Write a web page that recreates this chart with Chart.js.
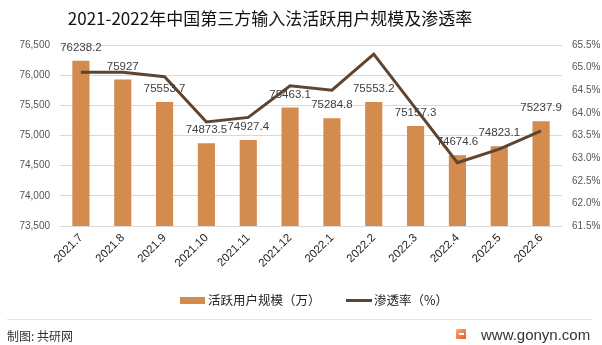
<!DOCTYPE html>
<html>
<head>
<meta charset="utf-8">
<script src="https://cdn.jsdelivr.net/npm/chart.js@4.4.0/dist/chart.umd.min.js"></script>
<style>
  html, body { margin: 0; padding: 0; background: #fff; }
  #wrap { position: relative; width: 602px; height: 345px; overflow: hidden; font-family: "Noto Sans CJK SC", "Noto Sans", sans-serif; }
  #c { position: absolute; left: 0; top: 0; }
  .abs { position: absolute; white-space: nowrap; }
  #title { left: 0; width: 540px; top: 6px; text-align: center; font-size: 17px; color: #111; line-height: 24px; }
  .leg-text { font-size: 12.5px; color: #222; line-height: 16px; top: 292px; }
  #footline { left: 7px; top: 319px; width: 585px; height: 1px; background: #e3e3e3; }
  #src { left: 7px; top: 327px; font-size: 12px; color: #333; line-height: 18px; }
  #site { left: 481px; top: 326px; font-family: "Liberation Sans", "DejaVu Sans", sans-serif; font-size: 15px; color: #333; line-height: 18px; }
</style>
</head>
<body>
<div id="wrap">
  <canvas id="c" width="602" height="345"></canvas>
  <div id="title" class="abs">2021-2022年中国第三方输入法活跃用户规模及渗透率</div>
  <div class="abs" style="left:180px;top:297px;width:25px;height:7px;background:#D38B4E;"></div>
  <div class="abs leg-text" style="left:208px;">活跃用户规模（万）</div>
  <div class="abs" style="left:346px;top:299px;width:26px;height:3px;background:#5E4531;"></div>
  <div class="abs leg-text" style="left:374px;">渗透率（%）</div>
  <div id="footline" class="abs"></div>
  <div id="src" class="abs">制图: 共研网</div>
  <div class="abs" style="left:456px;top:329px;width:10px;height:10px;background:linear-gradient(135deg,#f9b06a,#e8552f);border-radius:1px;"></div>
  <div class="abs" style="left:459px;top:333px;width:5px;height:2px;background:#fff;"></div>
  <div id="site" class="abs">www.gonyn.com</div>
</div>
<script>
const categories = ["2021.7","2021.8","2021.9","2021.10","2021.11","2021.12","2022.1","2022.2","2022.3","2022.4","2022.5","2022.6"];
const activeUsers = [76238.2, 75927, 75553.7, 74873.5, 74927.4, 75463.1, 75284.8, 75553.2, 75157.3, 74674.6, 74823.1, 75237.9];
const penetration = [64.9, 64.9, 64.8, 63.8, 63.9, 64.6, 64.5, 65.3, 64.1, 62.9, 63.2, 63.6];
const leftTicks = [73500, 74000, 74500, 75000, 75500, 76000, 76500];
const rightTicks = [61.5, 62.0, 62.5, 63.0, 63.5, 64.0, 64.5, 65.0, 65.5];

const tickFont = { family: "'Liberation Sans', 'Noto Sans', sans-serif", size: 10 };

const labelPlugin = {
  id: 'barLabels',
  afterDatasetsDraw(chart) {
    const ctx = chart.ctx;
    const meta = chart.getDatasetMeta(1);
    ctx.save();
    ctx.font = "11.5px 'Liberation Sans', 'Noto Sans', sans-serif";
    ctx.fillStyle = '#404040';
    ctx.textAlign = 'center';
    ctx.textBaseline = 'middle';
    meta.data.forEach((bar, i) => {
      ctx.fillText(String(activeUsers[i]), bar.x, bar.y - 13);
    });
    ctx.restore();
  }
};

new Chart(document.getElementById('c'), {
  data: {
    labels: categories,
    datasets: [
      {
        type: 'line', label: '渗透率（%）', data: penetration, yAxisID: 'y1',
        borderColor: '#5E4531', backgroundColor: '#5E4531', borderWidth: 3,
        pointRadius: 0, tension: 0, order: 0
      },
      {
        type: 'bar', label: '活跃用户规模（万）', data: activeUsers, yAxisID: 'y',
        backgroundColor: '#D38B4E', categoryPercentage: 1, barPercentage: 0.41, order: 1
      }
    ]
  },
  options: {
    responsive: false,
    animation: false,
    devicePixelRatio: 1,
    layout: { padding: { top: 45, left: 0, right: 0, bottom: 62 } },
    plugins: { legend: { display: false }, title: { display: false }, tooltip: { enabled: false } },
    scales: {
      x: {
        grid: { display: false, drawTicks: false },
        border: { display: false },
        ticks: { color: '#222', font: { family: "'Liberation Sans', 'Noto Sans', sans-serif", size: 11.5 }, maxRotation: 45, minRotation: 45, padding: 5 },
        afterFit(s) { s.height = 57; }
      },
      y: {
        position: 'left', min: 73500, max: 76500,
        afterBuildTicks(s) { s.ticks = leftTicks.map(v => ({ value: v })); },
        grid: { color: '#d9d9d9', drawTicks: false, lineWidth: 1 },
        border: { display: false },
        ticks: { color: '#555', font: tickFont, padding: 10 },
        afterFit(s) { s.width = 60; }
      },
      y1: {
        position: 'right', min: 61.5, max: 65.5,
        afterBuildTicks(s) { s.ticks = rightTicks.map(v => ({ value: v })); },
        grid: { display: false, drawTicks: false },
        border: { display: false },
        ticks: { color: '#555', font: tickFont, padding: 10, callback: v => Number(v).toFixed(1) + '%' },
        afterFit(s) { s.width = 40; }
      }
    }
  },
  plugins: [labelPlugin]
});
</script>
</body>
</html>
